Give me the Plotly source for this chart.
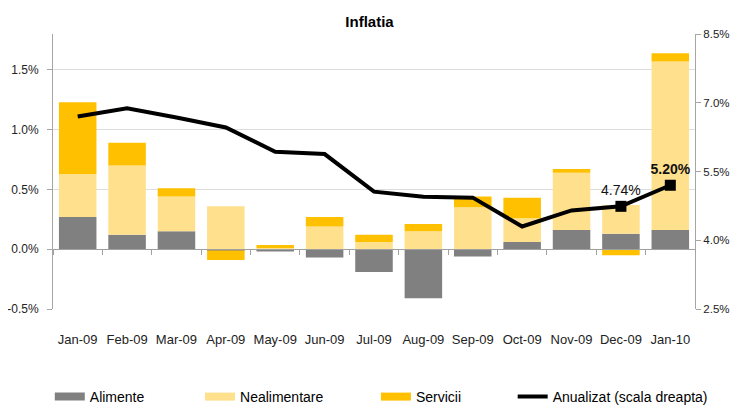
import plotly.graph_objects as go

categories = ["Jan-09", "Feb-09", "Mar-09", "Apr-09", "May-09", "Jun-09", "Jul-09",
              "Aug-09", "Sep-09", "Oct-09", "Nov-09", "Dec-09", "Jan-10"]
alimente = [0.27, 0.12, 0.15, -0.01, -0.02, -0.07, -0.19, -0.41, -0.06, 0.06, 0.16, 0.13, 0.16]
nealimentare = [0.36, 0.58, 0.29, 0.36, 0.01, 0.19, 0.06, 0.15, 0.35, 0.20, 0.48, 0.24, 1.41]
servicii = [0.60, 0.19, 0.07, -0.08, 0.025, 0.08, 0.06, 0.06, 0.09, 0.17, 0.03, -0.05, 0.07]
anualizat = [6.70, 6.88, 6.68, 6.46, 5.93, 5.88, 5.06, 4.95, 4.93, 4.30, 4.65, 4.74, 5.20]
left_ticks = [-0.5, 0.0, 0.5, 1.0, 1.5]
right_ticks = [2.5, 4.0, 5.5, 7.0, 8.5]
labelled = [11, 12]

FONT = "Liberation Sans, Arial, sans-serif"
C_ALIM = "#808080"
C_NEAL = "#FFE08C"
C_SERV = "#FFC000"

fig = go.Figure()
for name, vals, col, lg in [("Alimente", alimente, C_ALIM, "legend"),
                            ("Nealimentare", nealimentare, C_NEAL, "legend2"),
                            ("Servicii", servicii, C_SERV, "legend3")]:
    fig.add_trace(go.Bar(x=categories, y=vals, name=name, marker_color=col,
                         marker_line_width=0, showlegend=False, legendgroup=name))
    # legend proxy (wide patch)
    fig.add_trace(go.Scatter(x=[None], y=[None], mode="lines", name=name, legend=lg,
                             line=dict(color=col, width=8), legendgroup=name))

fig.add_trace(go.Scatter(x=categories, y=anualizat, mode="lines", name="Anualizat (scala dreapta)",
                         legend="legend4",
                         line=dict(color="black", width=4), xaxis="x2", yaxis="y2"))

lab_x = [categories[i] for i in labelled]
lab_y = [anualizat[i] for i in labelled]
lab_t = [f"{anualizat[labelled[0]]:.2f}%", f"<b>{anualizat[labelled[1]]:.2f}%</b>"]
fig.add_trace(go.Scatter(x=lab_x, y=lab_y, mode="markers+text", showlegend=False,
                         marker=dict(symbol="square", size=11, color="black"),
                         text=lab_t, textposition="top center",
                         textfont=dict(family=FONT, size=14, color="#111"),
                         xaxis="x2", yaxis="y2"))

y_lo, y_hi = -0.5, 1.8
zero_pos = (0 - y_lo) / (y_hi - y_lo)

leg_common = dict(orientation="h", xanchor="left", yref="container", y=0.0226,
                  yanchor="middle", font=dict(family=FONT, size=14, color="black"),
                  bgcolor="rgba(0,0,0,0)")

fig.update_layout(
    width=723, height=398,
    margin=dict(l=45, r=36, t=26, b=97),
    paper_bgcolor="white", plot_bgcolor="white",
    barmode="relative", bargap=0.24,
    title=dict(text="<b>Inflatia</b>", x=0.5, xanchor="center", y=0.965, yanchor="middle",
               automargin=False, font=dict(family=FONT, size=15, color="black")),
    font=dict(family=FONT, size=13, color="#222"),
    xaxis=dict(type="category", range=[-0.5, 12.5], showgrid=False, showline=False,
               automargin=False, ticks="", ticklabelstandoff=21,
               tickfont=dict(size=13, color="#222")),
    xaxis2=dict(type="category", range=[-0.5, 12.5], overlaying="x", anchor="free",
                position=zero_pos, showgrid=False, showticklabels=False, automargin=False,
                showline=True, linecolor="#a0a0a0", linewidth=1,
                ticks="outside", ticklen=5, tickcolor="#a0a0a0", tickson="boundaries"),
    yaxis=dict(range=[y_lo, y_hi], tickvals=left_ticks, ticktext=[f"{v:.1f}%" for v in left_ticks],
               showgrid=True, gridcolor="#dddddd", gridwidth=1, zeroline=False, automargin=False,
               showline=True, linecolor="#a6a6a6", ticks="outside", ticklen=5,
               ticklabelstandoff=6,
               tickcolor="#a6a6a6", tickfont=dict(size=12, color="#222")),
    yaxis2=dict(range=[2.5, 8.5], tickvals=right_ticks, ticktext=[f"{v:.1f}%" for v in right_ticks],
                overlaying="y", side="right", showgrid=False, zeroline=False, automargin=False,
                showline=True, linecolor="#a6a6a6", ticks="outside", ticklen=5,
                ticklabelstandoff=0,
                tickcolor="#a6a6a6", tickfont=dict(size=11.5, color="#222")),
    legend=dict(x=-0.005, **leg_common),
    legend2=dict(x=0.229, **leg_common),
    legend3=dict(x=0.503, **leg_common),
    legend4=dict(x=0.716, **leg_common),
)

fig.write_html("out.html")
